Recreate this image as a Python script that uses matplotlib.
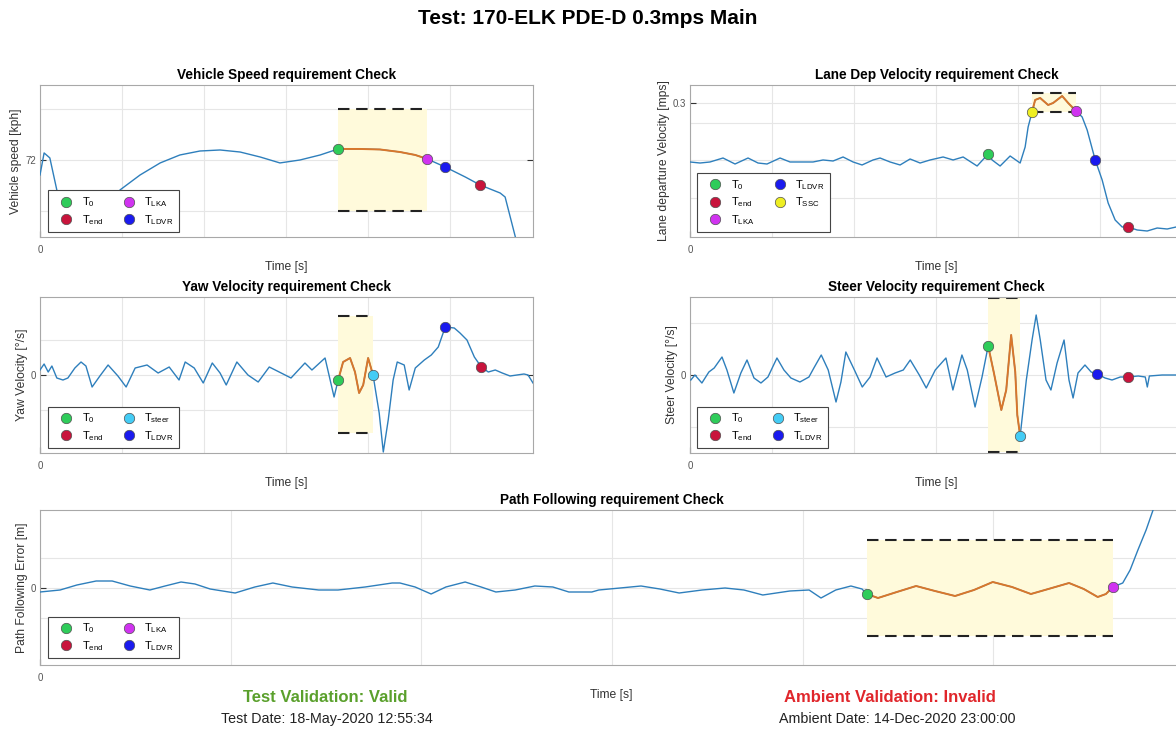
import numpy as np
import matplotlib
matplotlib.use('Agg')
import matplotlib.pyplot as plt
from matplotlib.lines import Line2D

plt.rcParams['font.family'] = ['Liberation Sans', 'DejaVu Sans']
plt.rcParams['mathtext.default'] = 'regular'

# ---------------- data ----------------
speed_t = [0, 0.10, 0.24, 0.41, 0.73, 0.98, 1.46, 1.90, 1.95, 2.44, 2.93, 3.41, 3.90, 4.39,
           4.88, 5.37, 5.85, 6.34, 6.83, 7.27, 7.80, 8.29, 8.78, 9.15, 9.44, 9.88, 10.37,
           10.73, 11.22, 11.34, 11.59, 11.66]
speed_v = [70.53, 72.69, 72.2, 69.06, 65.6, 65.33, 65.53, 68.57, 69.06, 70.53, 71.71, 72.49,
           72.88, 72.98, 72.78, 72.29, 71.71, 72.0, 72.49, 73.08, 73.08, 73.03, 72.78, 72.49,
           72.10, 71.31, 70.33, 69.55, 68.76, 68.37, 64.45, 63.2]
speed_window = (7.27, 9.44)
speed_limits = (67.0, 77.0)
speed_events = {'T0': (7.27, 73.08), 'TLKA': (9.44, 72.10), 'TLDVR': (9.88, 71.31),
                'Tend': (10.73, 69.55)}

lane_t = [0, 0.244, 0.488, 0.805, 1.098, 1.415, 1.659, 1.878, 2.195, 2.439, 2.683, 3.0, 3.244,
          3.488, 3.732, 3.976, 4.195, 4.463, 4.634, 4.878, 5.122, 5.366, 5.610, 5.854, 6.171,
          6.415, 6.659, 7.0, 7.27, 7.366, 7.561, 7.805, 8.049, 8.171, 8.244, 8.34, 8.415,
          8.537, 8.732, 8.854, 9.073, 9.220, 9.41, 9.561, 9.683, 9.88, 10.049, 10.195,
          10.366, 10.537, 10.68, 10.902, 11.146, 11.390, 11.634, 11.854, 12.02]
lane_v = [0.1678, 0.1655, 0.1678, 0.1767, 0.1633, 0.1767, 0.1655, 0.1633, 0.1767, 0.1678,
          0.1678, 0.1678, 0.1723, 0.1700, 0.1790, 0.1678, 0.1611, 0.1723, 0.1767, 0.1678,
          0.1611, 0.1745, 0.1655, 0.1723, 0.1790, 0.1723, 0.1790, 0.1588, 0.1857, 0.1723,
          0.1588, 0.1812, 0.1655, 0.2013, 0.2461, 0.2796, 0.3065, 0.3110, 0.2953, 0.2998,
          0.3154, 0.2998, 0.2819, 0.2685, 0.2394, 0.1723, 0.1275, 0.0761, 0.0380, 0.0224,
          0.0224, 0.0157, 0.0134, 0.0201, 0.0179, 0.0224, 0.0224]
lane_window = (8.34, 9.41)
lane_limits = (0.280, 0.322)
lane_events = {'T0': (7.27, 0.1857), 'TSSC': (8.34, 0.2796), 'TLKA': (9.41, 0.2819),
               'TLDVR': (9.88, 0.1723), 'Tend': (10.68, 0.0224)}

yaw_t = [0, 0.10, 0.20, 0.29, 0.41, 0.56, 0.68, 0.85, 1.0, 1.12, 1.27, 1.46, 1.66, 1.90, 2.10,
         2.32, 2.61, 2.88, 3.15, 3.39, 3.54, 3.76, 3.98, 4.20, 4.39, 4.54, 4.80, 5.07, 5.32,
         5.59, 5.88, 6.12, 6.46, 6.63, 6.95, 7.17, 7.27, 7.39, 7.56, 7.68, 7.78, 7.88, 8.0,
         8.12, 8.27, 8.37, 8.49, 8.61, 8.71, 8.88, 9.0, 9.15, 9.37, 9.54, 9.71, 9.88, 10.10,
         10.24, 10.41, 10.59, 10.76, 10.93, 11.10, 11.27, 11.46, 11.63, 11.80, 11.90, 12.02]
yaw_v = [0.5, 1.1, 0.3, 0.9, -0.3, -0.5, -0.3, 0.7, 1.3, 0.9, -1.2, -0.1, 1.0, -0.1, -1.2,
         0.7, 1.0, 0.2, 0.8, -0.5, 1.3, 0.7, -0.8, 1.2, 0.2, -1.0, 1.3, 0.0, -0.7, 0.8, 0.2,
         -0.3, 1.2, 0.5, 1.7, -2.2, -0.5, 1.3, 1.7, 0.3, -1.8, -1.0, 1.7, 0.0, -3.8, -7.7,
         -4.5, -0.5, 1.3, 1.0, -1.5, 0.7, 1.5, 2.0, 2.8, 4.8, 4.7, 4.2, 3.5, 1.8, 0.8, 0.3,
         0.5, 0.2, -0.1, 0.0, 0.1, 0.0, -0.8]
yaw_window = (7.27, 8.12)
yaw_limits = (-5.8, 5.9)
yaw_events = {'T0': (7.27, -0.5), 'Tsteer': (8.12, 0.0), 'TLDVR': (9.88, 4.8),
              'Tend': (10.76, 0.8)}

steer_t = [0.02, 0.12, 0.29, 0.46, 0.59, 0.78, 0.90, 1.07, 1.24, 1.39, 1.56, 1.73, 1.90, 2.12,
           2.29, 2.46, 2.68, 2.90, 3.02, 3.20, 3.37, 3.56, 3.68, 3.80, 4.02, 4.20, 4.39, 4.56,
           4.78, 5.0, 5.20, 5.37, 5.59, 5.76, 5.98, 6.24, 6.41, 6.63, 6.76, 6.95, 7.12, 7.27,
           7.41, 7.59, 7.71, 7.83, 7.93, 7.98, 8.05, 8.20, 8.34, 8.44, 8.54, 8.68, 8.80, 8.95,
           9.12, 9.24, 9.34, 9.46, 9.63, 9.78, 9.93, 10.12, 10.29, 10.49, 10.68, 10.93, 11.10,
           11.15, 11.20, 11.51, 12.02]
steer_v = [-2.5, 0, -4, 1.5, 3.5, 9, 2.5, -9, 1, 7.5, -1.5, -4, -1, 8.5, 2.5, -1.5, -3.5, -1,
           3.5, 10, 2.5, -13.5, -3.5, 11.5, 2, -6, -1, 8.5, -1, 1, 2.5, 7.5, 0, -6.5, 2.5, 8.5,
           -7.5, 10, 2.5, -16, -1, 14.5, 1, -17.5, -7.5, 20, 1.5, -20, -30.5, -2.5, 17.5, 30,
           17.5, -2.5, -7.5, 6, 17.5, -2.5, -11.5, 1, 5, 1.5, 0.5, -1.5, -2.5, -1, -1, -0.5,
           -1, -6, -0.5, 0, 0]
steer_window = (7.27, 8.05)
steer_limits = (-38.5, 38.5)
steer_events = {'T0': (7.27, 14.5), 'Tsteer': (8.05, -30.5), 'TLDVR': (9.93, 0.5),
                'Tend': (10.68, -1)}

path_t = [0, 0.49, 0.90, 1.37, 1.76, 2.20, 2.68, 3.05, 3.44, 3.78, 4.15, 4.76, 5.24, 5.68,
          6.15, 6.80, 7.27, 7.93, 8.59, 8.78, 9.15, 9.54, 9.90, 10.37, 10.76, 11.12, 11.59,
          12.07, 12.51, 12.90, 13.46, 13.63, 14.15, 14.66, 15.12, 15.59, 16.15, 16.71, 17.17,
          17.63, 18.29, 18.76, 19.05, 19.41, 19.78, 20.05, 20.17, 20.44, 20.90, 21.37, 21.83,
          22.32, 22.78, 23.24, 23.71, 24.17, 24.68, 25.10, 25.46, 25.80, 26.0, 26.17, 26.41,
          26.59, 26.78, 26.98, 27.15, 27.32]
path_v = [-0.04, -0.02, 0.03, 0.07, 0.07, 0.02, -0.02, 0.02, 0.06, 0.04, -0.01, -0.05, 0.01,
          0.05, 0.01, -0.02, -0.02, 0.01, 0.05, 0.05, 0.01, -0.06, 0.01, 0.06, 0.01, -0.04,
          -0.02, 0.02, 0.01, -0.04, -0.04, -0.02, 0.0, 0.02, -0.01, -0.05, -0.02, 0.0, -0.02,
          -0.07, -0.03, -0.02, -0.10, -0.02, 0.02, -0.01, -0.06, -0.10, -0.04, 0.02, -0.03,
          -0.08, -0.02, 0.06, 0.01, -0.06, 0.0, 0.05, -0.01, -0.09, -0.06, 0.01, 0.05, 0.18,
          0.38, 0.58, 0.78, 0.98]
path_window = (20.17, 26.17)
path_limits = (-0.48, 0.48)
path_events = {'T0': (20.17, -0.06), 'TLKA': (26.17, 0.01)}

# ---------------- style ----------------
EVENT_STYLE = {
    'T0': ('#2fcc5a', r'$\mathregular{T_0}$'),
    'Tend': ('#c8143c', r'$\mathregular{T_{end}}$'),
    'TLKA': ('#d033f0', r'$\mathregular{T_{LKA}}$'),
    'TLDVR': ('#1a1aee', r'$\mathregular{T_{LDVR}}$'),
    'Tsteer': ('#44ccf5', r'$\mathregular{T_{steer}}$'),
    'TSSC': ('#eeee22', r'$\mathregular{T_{SSC}}$'),
}
BLUE = '#2e7fbc'
ORANGE = '#d9772b'
YELLOW = '#fffadb'

W, H = 1176, 731
fig = plt.figure(figsize=(W / 100, H / 100), dpi=100)


def px_axes(l, t, r, b):
    return fig.add_axes([l / W, 1 - b / H, (r - l) / W, (b - t) / H])


def panel(ax, t, v, window, limits, events, order, title, ylabel, xlim, ylim,
          ytick, ytlabel, xgrid, ygrid, leg_anchor):
    t = np.asarray(t)
    v = np.asarray(v)
    ax.fill_between(list(window), limits[0], limits[1], color=YELLOW, lw=0, zorder=1)
    for lv in limits:
        ax.plot(list(window), [lv, lv], color='#222222', lw=1.5, dashes=(5.5, 3.2), zorder=2)
    ax.plot(t, v, color=BLUE, lw=1.0, zorder=3)
    m = (t >= window[0]) & (t <= window[1])
    ax.plot(t[m], v[m], color=ORANGE, lw=1.4, zorder=4)
    for k, (et, ev) in events.items():
        ax.plot(et, ev, 'o', ms=7.5, mfc=EVENT_STYLE[k][0], mec='#505050', mew=0.5, zorder=5)
    ax.set_xlim(*xlim)
    ax.set_ylim(*ylim)
    ax.set_xticks([0])
    ax.set_xticklabels(['0'])
    ax.set_yticks([ytick])
    ax.set_yticklabels([ytlabel])
    ax.set_xticks(xgrid, minor=True)
    ax.set_yticks(ygrid, minor=True)
    ax.grid(True, which='both', color='#e6e6e6', lw=0.8, zorder=0)
    ax.set_axisbelow(True)
    ax.tick_params(which='minor', length=0)
    ax.tick_params(which='major', direction='in', length=4, right=True, top=False,
                   labelsize=7, labelcolor='#555555', color='#333333', pad=3)
    ax.tick_params(axis='x', which='major', pad=6)
    for s in ax.spines.values():
        s.set_color('#a8a8a8')
        s.set_linewidth(0.8)
    ax.set_title(title, fontsize=9.8, fontweight='bold', pad=4)
    ax.set_ylabel(ylabel, fontsize=8.7, color='#333333', labelpad=2)
    ax.set_xlabel('Time [s]', fontsize=8.7, color='#333333', labelpad=4)
    handles = [Line2D([], [], ls='none', marker='o', ms=7.5, mfc=EVENT_STYLE[k][0],
                      mec='#505050', mew=0.5) for k in order]
    labels = [EVENT_STYLE[k][1] for k in order]
    leg = ax.legend(handles, labels, ncol=2, loc='lower left', bbox_to_anchor=leg_anchor,
                    borderaxespad=0, fontsize=8, frameon=True, fancybox=False,
                    framealpha=1, edgecolor='#444444', handlelength=2.4,
                    handletextpad=0.2, columnspacing=1.1, labelspacing=0.35,
                    borderpad=0.45)
    leg.get_frame().set_linewidth(0.8)
    leg.set_zorder(10)


ax1 = px_axes(40, 85, 533, 237)
panel(ax1, speed_t, speed_v, speed_window, speed_limits, speed_events,
      ['T0', 'Tend', 'TLKA', 'TLDVR'], 'Vehicle Speed requirement Check',
      'Vehicle speed [kph]', (0, 12.02), (64.45, 79.35), 72, '72',
      [2, 4, 6, 8, 10], [67, 77], (0.016, 0.033))

ax2 = px_axes(690, 85, 1183, 237)
panel(ax2, lane_t, lane_v, lane_window, lane_limits, lane_events,
      ['T0', 'Tend', 'TLKA', 'TLDVR', 'TSSC'], 'Lane Dep Velocity requirement Check',
      'Lane departure Velocity [mps]', (0, 12.02), (0, 0.34), 0.3, '0.3',
      [2, 4, 6, 8, 10], [0.087, 0.172, 0.255], (0.014, 0.033))

ax3 = px_axes(40, 297, 533, 453)
panel(ax3, yaw_t, yaw_v, yaw_window, yaw_limits, yaw_events,
      ['T0', 'Tend', 'Tsteer', 'TLDVR'], 'Yaw Velocity requirement Check',
      'Yaw Velocity [°/s]', (0, 12.02), (-7.8, 7.8), 0, '0',
      [2, 4, 6, 8, 10], [-3.5, 3.5], (0.016, 0.032))

ax4 = px_axes(690, 297, 1183, 453)
panel(ax4, steer_t, steer_v, steer_window, steer_limits, steer_events,
      ['T0', 'Tend', 'Tsteer', 'TLDVR'], 'Steer Velocity requirement Check',
      'Steer Velocity [°/s]', (0, 12.02), (-39, 39), 0, '0',
      [2, 4, 6, 8, 10], [-26, 26], (0.014, 0.032))

ax5 = px_axes(40, 510, 1183, 665)
panel(ax5, path_t, path_v, path_window, path_limits, path_events,
      ['T0', 'Tend', 'TLKA', 'TLDVR'], 'Path Following requirement Check',
      'Path Following Error [m]', (0, 27.88), (-0.77, 0.78), 0, '0',
      [4.65, 9.3, 13.95, 18.6, 23.25], [-0.3, 0.3], (0.007, 0.045))

fig.text(588 / W, 1 - 19 / H, 'Test: 170-ELK PDE-D 0.3mps Main', ha='center', va='center',
         fontsize=15, fontweight='bold')
fig.text(325 / W, 1 - 698 / H, 'Test Validation: Valid', ha='center', va='center',
         fontsize=12, fontweight='bold', color='#5aa02c')
fig.text(327 / W, 1 - 719 / H, 'Test Date: 18-May-2020 12:55:34', ha='center', va='center',
         fontsize=10.3, color='#222222')
fig.text(890 / W, 1 - 698 / H, 'Ambient Validation: Invalid', ha='center', va='center',
         fontsize=12, fontweight='bold', color='#e0262b')
fig.text(897 / W, 1 - 719 / H, 'Ambient Date: 14-Dec-2020 23:00:00', ha='center',
         va='center', fontsize=10.3, color='#222222')

fig.savefig('out.png', dpi=100)
